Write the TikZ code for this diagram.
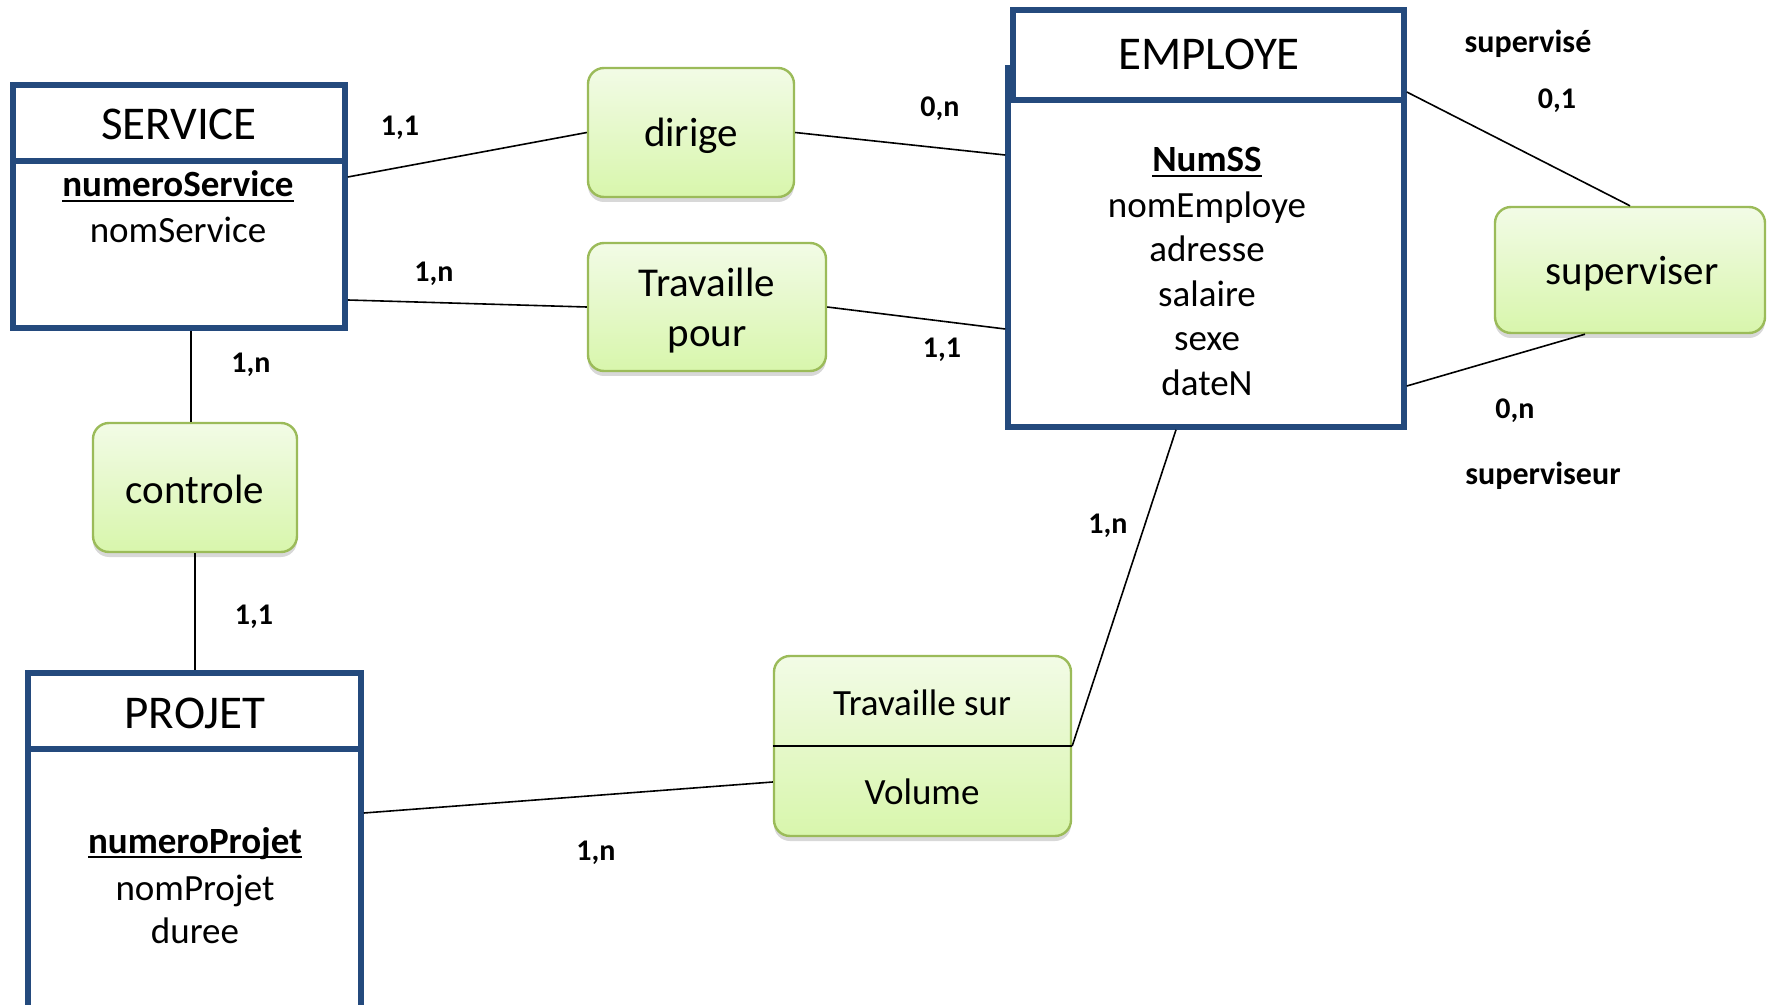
\documentclass[tikz,border=0pt]{standalone}
\usepackage{fontspec}
\setmainfont{Carlito}
\usetikzlibrary{shadows}
\definecolor{bleuEnt}{RGB}{36,74,125}
\definecolor{vertBord}{RGB}{155,187,89}
\definecolor{vertHaut}{RGB}{242,251,230}
\definecolor{vertBas}{RGB}{216,246,172}
\newcommand\cle[1]{\setbox0\hbox{\bfseries #1}\rlap{\rule[-2.6pt]{\wd0}{1pt}}\box0}
\begin{document}
\begin{tikzpicture}[x=0.5pt,y=-0.5pt,
    entite/.style={draw=bleuEnt,line width=2.8pt,fill=white,inner sep=0pt},
    assoc/.style={draw=vertBord,line width=1.2pt,rounded corners=8pt,inner sep=0pt,
      top color=vertHaut,bottom color=vertBas,
      drop shadow={shadow xshift=0pt,shadow yshift=-2.5pt,opacity=0.25,fill=black!60}},
    titre/.style={anchor=base,font=\fontsize{23.5}{28}\selectfont},
    attr/.style={anchor=base,font=\fontsize{18.5}{22}\selectfont},
    nomassoc/.style={anchor=base,font=\fontsize{20.5}{24}\selectfont},
    card/.style={anchor=base,font=\bfseries\fontsize{15}{18}\selectfont},
    lien/.style={line width=0.8pt}]
  \clip (0,0) rectangle (1767,1005);
  \fill[white] (0,0) rectangle (1767,1005);

  % entites
  \node[entite,minimum width=166pt,minimum height=121.5pt] (service) at (179,206.5) {};
  \draw[entite] (service.west |- 0,161) -- (service.east |- 0,161);
  \node[entite,minimum width=198pt,minimum height=179.5pt] (employe) at (1206,247.5) {};
  \node[entite,minimum width=195.5pt,minimum height=45pt] (employe-tete) at (1208.5,55) {};
  \node[entite,minimum width=166.5pt,minimum height=178.5pt] (projet) at (194.5,851.5) {};
  \draw[entite] (projet.west |- 0,749) -- (projet.east |- 0,749);

  \node[titre] (service-t) at (179,140) {SERVICE};
  \node[attr] (service-k) at (178,197) {\cle{numeroService}};
  \node[attr] (service-a) at (178,243) {nomService};
  \node[titre] (employe-t) at (1209,70) {EMPLOYE};
  \node[attr] (employe-k) at (1207,172) {\cle{NumSS}};
  \foreach \a [count=\i from 0] in {nomEmploye,adresse,salaire,sexe,dateN}
    \node[attr] (employe-a\i) at (1207,217.5+44.5*\i) {\a};
  \node[titre] (projet-t) at (195,728) {PROJET};
  \node[attr] (projet-k) at (195,853) {\cle{numeroProjet}};
  \node[attr] (projet-a0) at (195,900) {nomProjet};
  \node[attr] (projet-a1) at (195,943) {duree};

  % associations
  \node[assoc,minimum width=103pt,minimum height=64.5pt] (dirige) at (691,132.5) {};
  \node[assoc,minimum width=119pt,minimum height=64pt] (travPour) at (707,307) {};
  \node[assoc,minimum width=102pt,minimum height=64.5pt] (controle) at (195,487.5) {};
  \node[assoc,minimum width=135pt,minimum height=63pt] (superviser) at (1630,270) {};
  \node[assoc,minimum width=148.5pt,minimum height=90pt] (travSur) at (922.5,746) {};
  \draw[line width=0.8pt] (travSur.west) -- (travSur.east);

  \node[nomassoc] (dirige-t) at (691,147) {dirige};
  \node[nomassoc] (travPour-t1) at (707,297) {Travaille};
  \node[nomassoc] (travPour-t2) at (707,347) {pour};
  \node[nomassoc] (controle-t) at (195,503) {controle};
  \node[nomassoc] (superviser-t) at (1632,285) {superviser};
  \node[attr] (travSur-t) at (922,715) {Travaille sur};
  \node[attr] (travSur-a) at (922,804) {Volume};

  % liens
  \begin{scope}[lien]
    \draw (service.east |- 0,177) to (dirige.west);
    \draw (dirige.east) to (employe.west |- 0,155);
    \draw (service.east |- 0,300) to (travPour.west);
    \draw (travPour.east) to (employe.west |- 0,329);
    \draw (service.south -| 191,0) to (controle.north -| 191,0);
    \draw (controle.south) to (projet.north -| controle.south);
    \draw (employe-tete.east |- 0,92) to (superviser.north);
    \draw (superviser.south -| 1585,0) to (employe.east |- 0,386);
    \draw (employe.south -| 1176,0) to (travSur.east);
    \draw (projet.east |- 0,813) to (travSur.west |- 0,782);
  \end{scope}

  % cardinalites
  \node[card] (c-sd) at (400,136) {1,1};
  \node[card] (c-de) at (940,117) {0,n};
  \node[card] (c-st) at (434,282) {1,n};
  \node[card] (c-te) at (942,358) {1,1};
  \node[card] (c-sc) at (251,373) {1,n};
  \node[card] (c-cp) at (254,624) {1,1};
  \node[card] (c-es1) at (1557,109) {0,1};
  \node[card] (c-es2) at (1515,419) {0,n};
  \node[card] (c-ew) at (1108,533) {1,n};
  \node[card] (c-pw) at (596,860) {1,n};
  \node[card,font=\bfseries\fontsize{16}{19}\selectfont] (r-supervise) at (1528,53) {supervisé};
  \node[card,font=\bfseries\fontsize{16}{19}\selectfont] (r-superviseur) at (1543,485) {superviseur};
\end{tikzpicture}
\end{document}
